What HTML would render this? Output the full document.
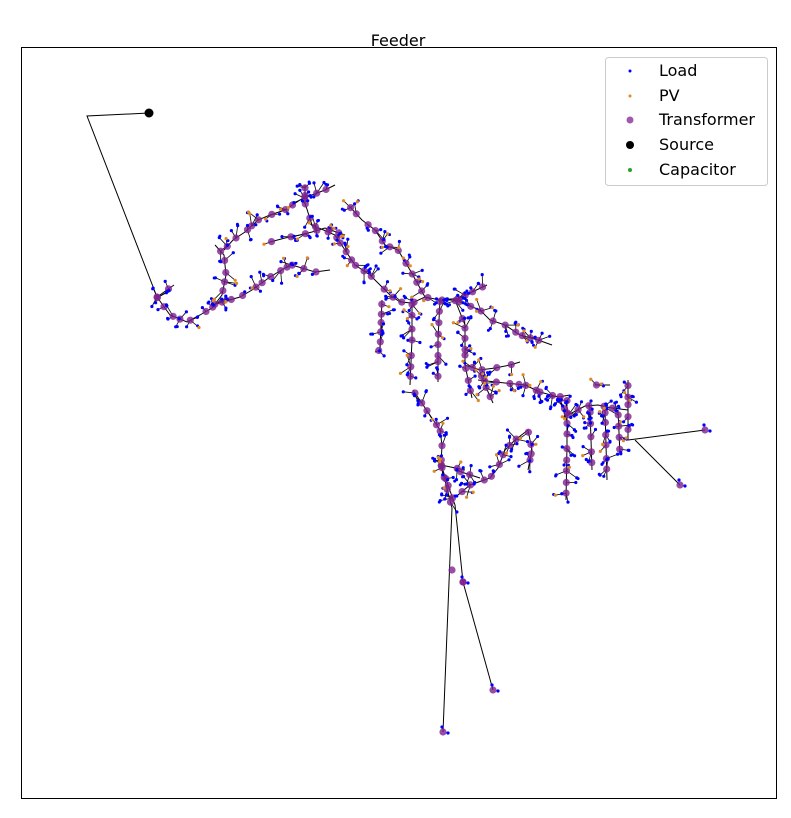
<!DOCTYPE html>
<html><head><meta charset="utf-8"><style>
html,body{margin:0;padding:0;background:#fff;}
svg{display:block;font-family:"DejaVu Sans","Liberation Sans",sans-serif;}
</style></head><body>
<svg id="s" width="791" height="818" viewBox="0 0 791 818" xmlns="http://www.w3.org/2000/svg">
<rect x="0" y="0" width="791" height="818" fill="#fff"/>
<text x="398" y="46" font-size="16" text-anchor="middle" fill="#000">Feeder</text>
<g id="lines" stroke="#000" stroke-width="1" fill="none"></g>
<g id="stubs" stroke="#000" stroke-width="0.8" fill="none"></g>
<g id="tr" fill="#7e2290" fill-opacity="0.8"></g>
<g id="ld" fill="#0000ff"></g>
<g id="pv" fill="#e08a20"></g>
<circle cx="149" cy="113" r="4.5" fill="#000"/>
<rect x="21.5" y="47.5" width="755" height="751" fill="none" stroke="#000" stroke-width="1"/>
<rect x="605.5" y="57.5" width="162" height="128" rx="3" fill="#fff" fill-opacity="0.85" stroke="#ccc"/>
<circle cx="630" cy="71" r="1.5" fill="#0000ff"/>
<circle cx="630" cy="96" r="1.5" fill="#e08a20"/>
<circle cx="630" cy="120" r="3.5" fill="#8a2f96" fill-opacity="0.8"/>
<circle cx="630" cy="145" r="4" fill="#000"/>
<circle cx="630" cy="170" r="2" fill="#2ca02c"/>
<g font-size="16" fill="#000">
<text x="659" y="76">Load</text>
<text x="659" y="101">PV</text>
<text x="659" y="125">Transformer</text>
<text x="659" y="150">Source</text>
<text x="659" y="175">Capacitor</text>
</g>
</svg>
<script>
var NS="http://www.w3.org/2000/svg";
var seed=7;function r(){seed=(seed*16807)%2147483647;return (seed-1)/2147483646;}
function el(g,t,a){var e=document.createElementNS(NS,t);for(var k in a)e.setAttribute(k,a[k]);document.getElementById(g).appendChild(e);return e;}
var P=[
[[149,113],[87,116],[157,297]],
[[157,297],[174,285]],
[[157,297],[170,315],[187,322],[200,315],[212,308],[222,295],[226,275],[224,255],[215,245]],
[[224,250],[233,240],[245,232],[258,220],[270,215],[285,210],[300,200],[312,195],[325,190],[335,185]],
[[305,185],[305,203],[312,225],[335,235],[345,250],[355,265],[370,275],[380,285],[390,295],[400,302],[412,303],[425,297],[440,300],[455,300],[470,293],[487,285]],
[[270,242],[285,238],[300,235],[312,232],[325,228],[345,235]],
[[212,305],[240,297],[252,290],[270,277],[285,268],[292,265],[315,272],[330,270]],
[[350,207],[362,220],[375,230],[385,245],[398,250],[410,270],[425,297]],
[[440,300],[438,340],[438,382]],[[412,303],[412,340],[410,385]],[[382,300],[380,350],[375,352]],
[[455,300],[465,325],[465,365],[472,398]],
[[455,300],[480,310],[490,320],[505,325],[520,335],[538,340],[552,345]],
[[465,365],[480,370],[495,368],[510,365],[520,362]],
[[480,372],[485,385],[493,403]],
[[478,380],[505,383],[525,385],[540,392],[558,397],[570,395]],
[[558,397],[568,415],[585,406],[598,405],[612,408],[628,410]],
[[567,400],[567,445],[566,500]],[[590,410],[592,470]],[[605,410],[607,480]],[[618,410],[620,455]],[[628,380],[628,440]],
[[628,440],[705,430]],[[635,440],[680,485]],
[[595,385],[610,385]],
[[413,390],[440,430],[442,445],[441,465],[452,508],[443,732]],
[[441,465],[455,505],[463,582],[493,690]],
[[441,465],[465,470]],
[[458,495],[470,485],[490,478],[498,468],[505,450],[515,440],[528,430],[532,450],[528,470]],
[[455,470],[480,478]]
];
var BARE={0:1,22:1,23:1};
P.forEach(function(p,i){
 el("lines","polyline",{points:p.map(function(q){return q.join(",")}).join(" ")});
 if(i==0){return;}
 for(var j=0;j<p.length-1;j++){
  var a=p[j],b=p[j+1],dx=b[0]-a[0],dy=b[1]-a[1],L=Math.hypot(dx,dy);
  if(BARE[i]||L>75){
   el("tr","circle",{cx:b[0],cy:b[1],r:3.6});
   el("ld","circle",{cx:b[0]+5,cy:b[1]+1,r:1.6});
   el("ld","circle",{cx:b[0]-1,cy:b[1]-5,r:1.6});
   continue;
  }
  var n=Math.max(1,Math.round(L/11));
  for(var k=0;k<n;k++){
   var t=(k+r()*0.5)/n,x=a[0]+dx*t,y=a[1]+dy*t;
   el("tr","circle",{cx:x.toFixed(1),cy:y.toFixed(1),r:3.6});
   var m=1+Math.floor(r()*3);
   for(var s=0;s<m;s++){
    var ang=r()*6.283,d=4+r()*9,ex=x+Math.cos(ang)*d,ey=y+Math.sin(ang)*d;
    el("stubs","line",{x1:x.toFixed(1),y1:y.toFixed(1),x2:ex.toFixed(1),y2:ey.toFixed(1)});
    el(r()<0.25?"pv":"ld","circle",{cx:ex.toFixed(1),cy:ey.toFixed(1),r:1.6});
    if(r()<0.5) el("ld","circle",{cx:(ex+r()*4-2).toFixed(1),cy:(ey+r()*4-2).toFixed(1),r:1.5});
   }
  }
 }
});
el("tr","circle",{cx:452,cy:570,r:3.6});
el("tr","circle",{cx:463,cy:582,r:3.6});
</script>
</body></html>
